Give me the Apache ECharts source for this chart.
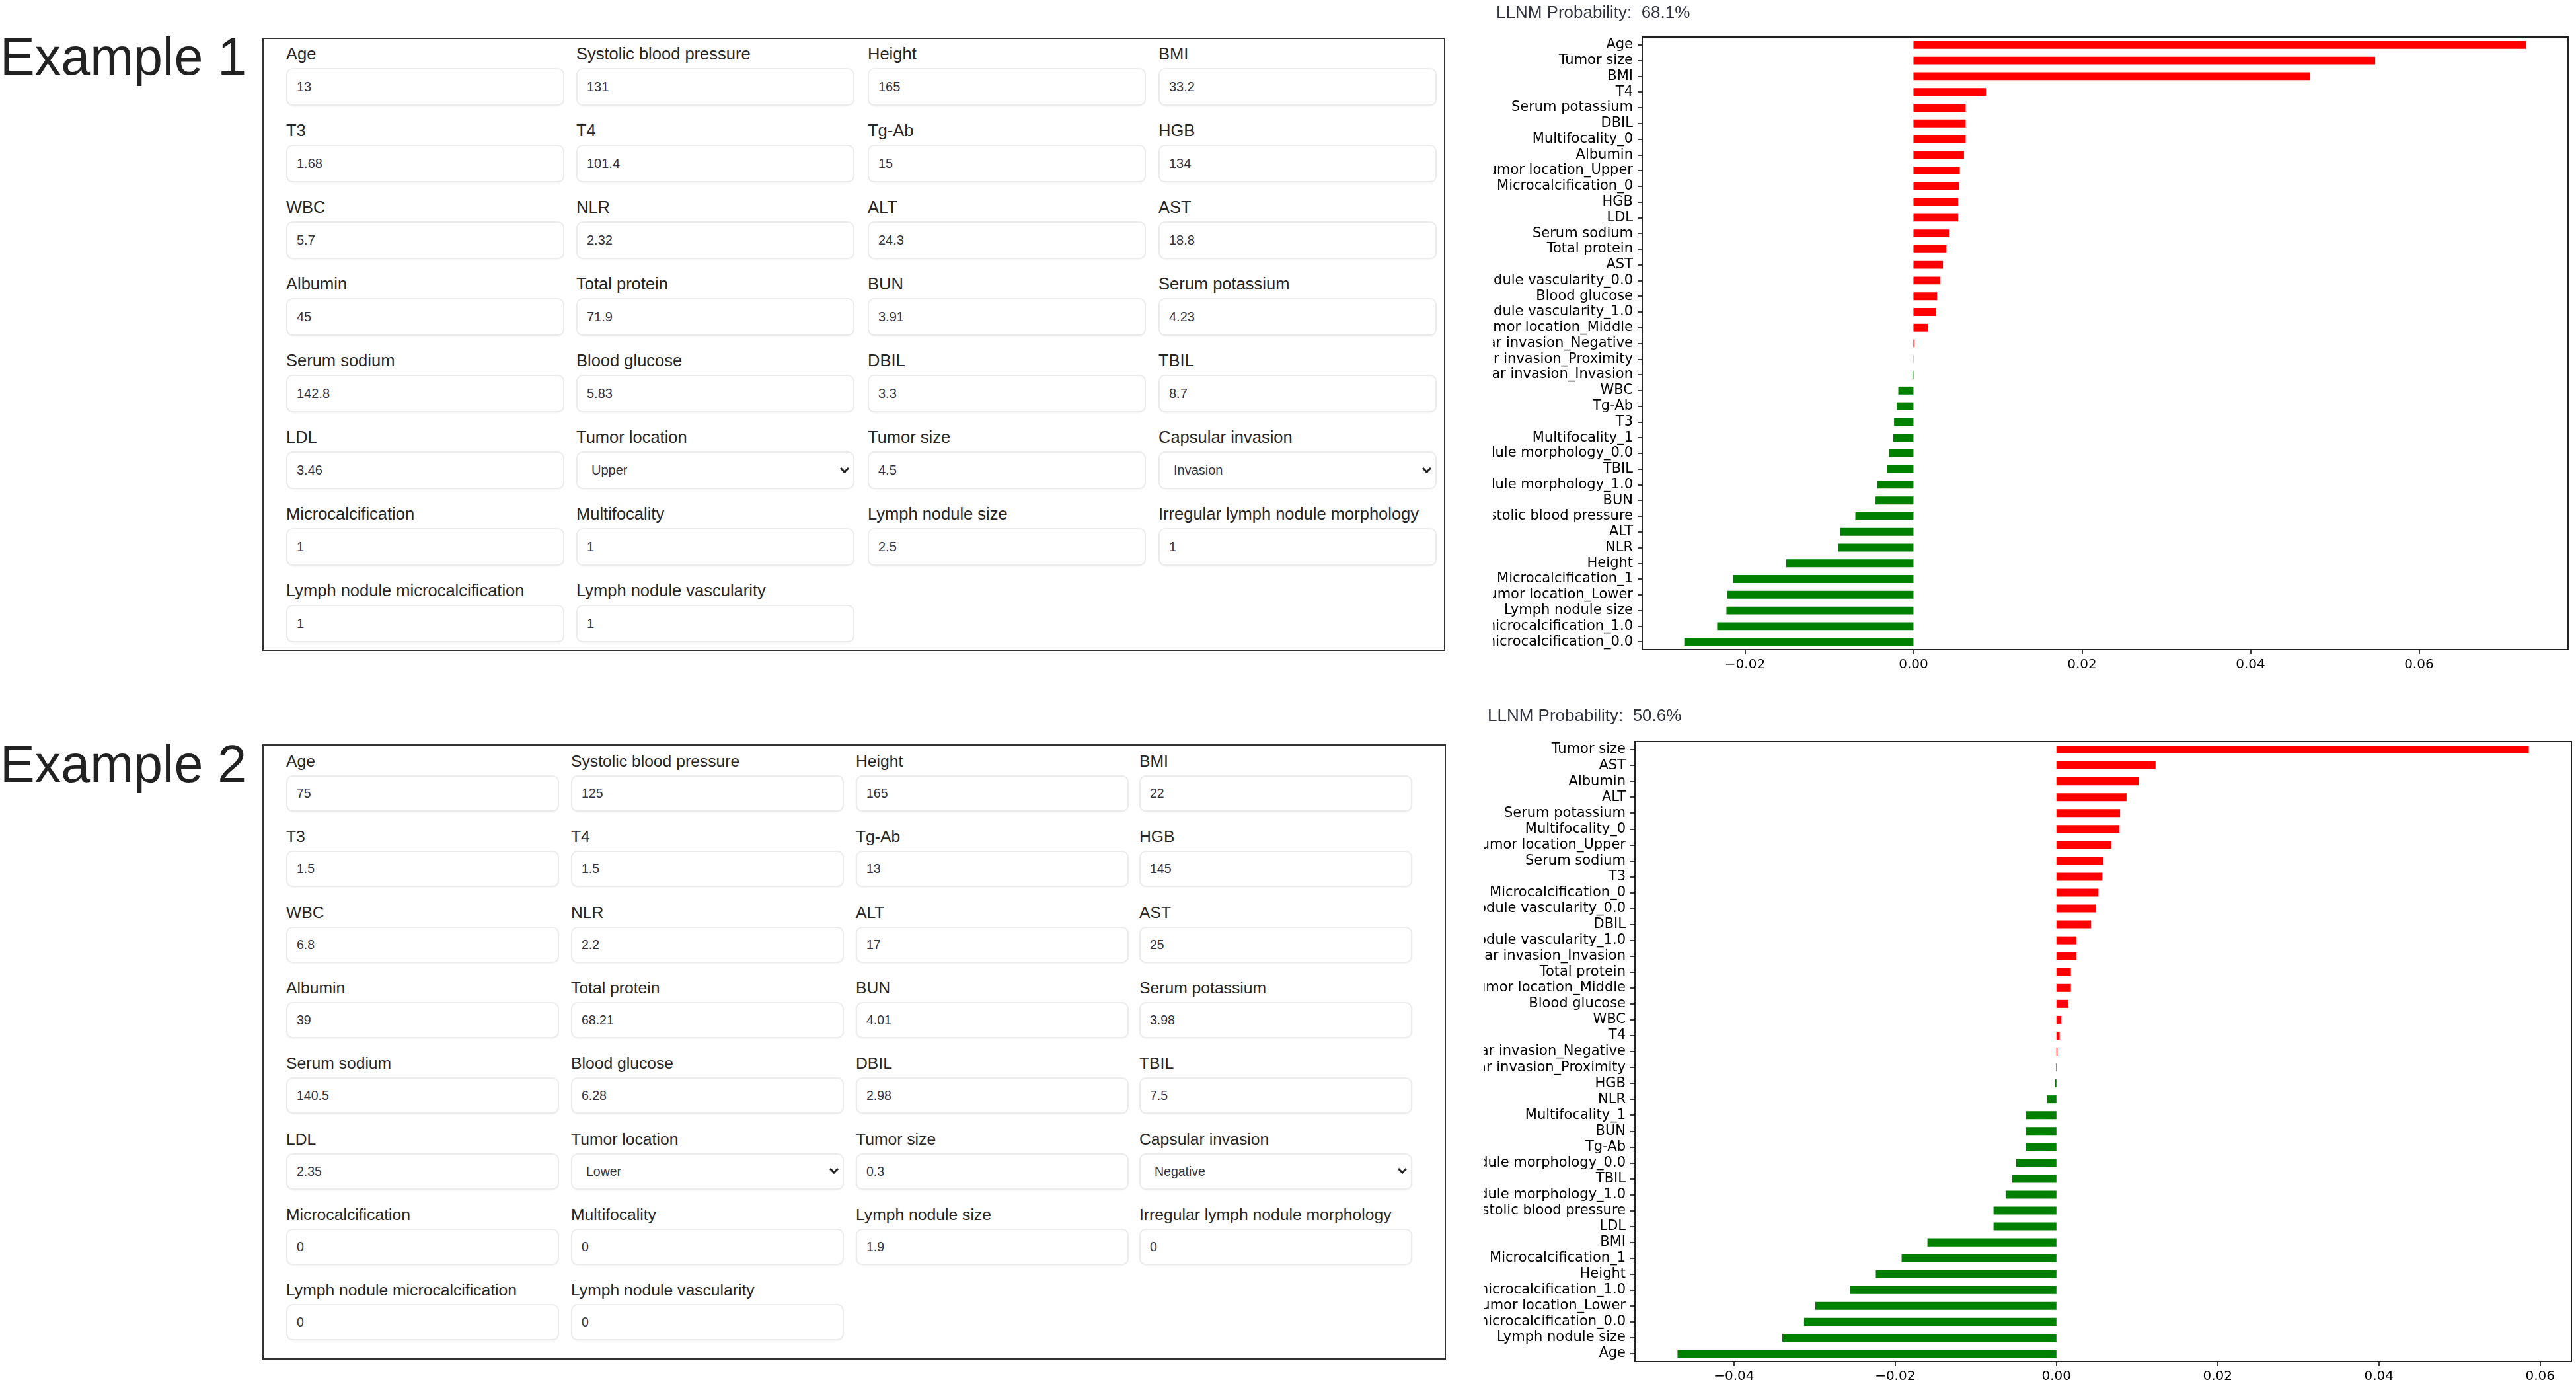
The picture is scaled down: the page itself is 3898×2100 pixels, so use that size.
<!DOCTYPE html>
<html>
<head>
<meta charset="utf-8">
<title>LLNM examples</title>
<script src="https://cdn.jsdelivr.net/npm/echarts@6.0.0/dist/echarts.min.js"></script>
<style>
html, body { margin: 0; padding: 0; background: #fff; }
body { width: 3898px; height: 2100px; position: relative; overflow: hidden; font-family: "Liberation Sans", Arial, sans-serif; }
.ex { position: absolute; left: 0; font-size: 79px; line-height: 79px; color: #222; white-space: nowrap; }
.panel { position: absolute; border: 2px solid #333; box-sizing: border-box; }
.lab { position: absolute; white-space: nowrap; color: #262626; line-height: 30px; }
.box { position: absolute; box-sizing: border-box; border: 2px solid #ececec; border-radius: 10px; background: #fff;
       box-shadow: 0 1px 2px rgba(0,0,0,.05); color: #31333f; white-space: nowrap; }
.chev { position: absolute; width: 7px; height: 7px; border-right: 3px solid #222; border-bottom: 3px solid #222; transform: rotate(45deg); }
.chart { position: absolute; }
</style>
</head>
<body>
<div class="ex" style="top:46px">Example 1</div>
<div class="ex" style="top:1116px">Example 2</div>
<div id="c1" class="chart" style="left:2259px;top:0px;width:1639px;height:1062px"></div>
<div id="c2" class="chart" style="left:2246px;top:1060px;width:1652px;height:1040px"></div>
<script>
// form fields, same order in both examples (4 per row)
const fieldNames = ['Age', 'Systolic blood pressure', 'Height', 'BMI',
  'T3', 'T4', 'Tg-Ab', 'HGB',
  'WBC', 'NLR', 'ALT', 'AST',
  'Albumin', 'Total protein', 'BUN', 'Serum potassium',
  'Serum sodium', 'Blood glucose', 'DBIL', 'TBIL',
  'LDL', 'Tumor location', 'Tumor size', 'Capsular invasion',
  'Microcalcification', 'Multifocality', 'Lymph nodule size', 'Irregular lymph nodule morphology',
  'Lymph nodule microcalcification', 'Lymph nodule vascularity']
const selectFields = ['Tumor location', 'Capsular invasion']

const inputs1 = ['13', '131', '165', '33.2', '1.68', '101.4', '15', '134', '5.7', '2.32', '24.3', '18.8',
  '45', '71.9', '3.91', '4.23', '142.8', '5.83', '3.3', '8.7', '3.46', 'Upper', '4.5', 'Invasion',
  '1', '1', '2.5', '1', '1', '1']
const inputs2 = ['75', '125', '165', '22', '1.5', '1.5', '13', '145', '6.8', '2.2', '17', '25',
  '39', '68.21', '4.01', '3.98', '140.5', '6.28', '2.98', '7.5', '2.35', 'Lower', '0.3', 'Negative',
  '0', '0', '1.9', '0', '0', '0']

const prob1 = '68.1%'
const prob2 = '50.6%'

const features1 = ['Age', 'Tumor size', 'BMI', 'T4', 'Serum potassium', 'DBIL', 'Multifocality_0', 'Albumin',
  'Tumor location_Upper', 'Microcalcification_0', 'HGB', 'LDL', 'Serum sodium', 'Total protein', 'AST',
  'Lymph nodule vascularity_0.0', 'Blood glucose', 'Lymph nodule vascularity_1.0', 'Tumor location_Middle',
  'Capsular invasion_Negative', 'Capsular invasion_Proximity', 'Capsular invasion_Invasion', 'WBC', 'Tg-Ab', 'T3',
  'Multifocality_1', 'Irregular lymph nodule morphology_0.0', 'TBIL', 'Irregular lymph nodule morphology_1.0', 'BUN',
  'Systolic blood pressure', 'ALT', 'NLR', 'Height', 'Microcalcification_1', 'Tumor location_Lower',
  'Lymph nodule size', 'Lymph nodule microcalcification_1.0', 'Lymph nodule microcalcification_0.0']
const shap1 = [0.0727, 0.0548, 0.0471, 0.0086, 0.0062, 0.0062, 0.0062, 0.0060,
  0.0055, 0.0054, 0.0053, 0.0053, 0.0042, 0.0039, 0.0035,
  0.0032, 0.0028, 0.0027, 0.0017,
  0.0001, 0.00002, -0.0001, -0.0018, -0.0020, -0.0023,
  -0.0024, -0.0029, -0.0031, -0.0043, -0.0045,
  -0.0069, -0.0087, -0.0089, -0.0151, -0.0214, -0.0221,
  -0.0222, -0.0233, -0.0272]

const features2 = ['Tumor size', 'AST', 'Albumin', 'ALT', 'Serum potassium', 'Multifocality_0', 'Tumor location_Upper',
  'Serum sodium', 'T3', 'Microcalcification_0', 'Lymph nodule vascularity_0.0', 'DBIL', 'Lymph nodule vascularity_1.0',
  'Capsular invasion_Invasion', 'Total protein', 'Tumor location_Middle', 'Blood glucose', 'WBC', 'T4',
  'Capsular invasion_Negative', 'Capsular invasion_Proximity', 'HGB', 'NLR', 'Multifocality_1', 'BUN', 'Tg-Ab',
  'Irregular lymph nodule morphology_0.0', 'TBIL', 'Irregular lymph nodule morphology_1.0', 'Systolic blood pressure',
  'LDL', 'BMI', 'Microcalcification_1', 'Height', 'Lymph nodule microcalcification_1.0', 'Tumor location_Lower',
  'Lymph nodule microcalcification_0.0', 'Lymph nodule size', 'Age']
const shap2 = [0.0586, 0.0123, 0.0102, 0.0087, 0.0079, 0.0078, 0.0068,
  0.0058, 0.0057, 0.0052, 0.0049, 0.0043, 0.0025,
  0.0025, 0.0018, 0.0018, 0.0015, 0.0006, 0.0004,
  0.0001, -0.00005, -0.0002, -0.0012, -0.0038, -0.0038, -0.0038,
  -0.0050, -0.0055, -0.0063, -0.0078,
  -0.0078, -0.0160, -0.0192, -0.0224, -0.0256, -0.0299,
  -0.0313, -0.0340, -0.0470]

const ticks1 = [-0.02, 0, 0.02, 0.04, 0.06]
const ticks2 = [-0.04, -0.02, 0, 0.02, 0.04, 0.06]

// panel layouts (the two screenshots were taken at slightly different widths)
const lay1 = { left: 397, top: 57, width: 1790, height: 928, cols: [433, 872, 1313, 1753], boxW: 421,
  row0: 81, pitch: 116, boxOff: 22, boxH: 57, labelSize: 25.5, valueSize: 20 }
const lay2 = { left: 397, top: 1126, width: 1791, height: 931, cols: [433, 864, 1295, 1724], boxW: 413,
  row0: 1152, pitch: 114.3, boxOff: 21, boxH: 55, labelSize: 24.7, valueSize: 19.5 }

const buildPanel = (values, lay) => {
  const p = document.createElement('div')
  p.className = 'panel'
  p.style.cssText = `left:${lay.left}px;top:${lay.top}px;width:${lay.width}px;height:${lay.height}px`
  document.body.appendChild(p)
  fieldNames.forEach((name, i) => {
    const x = lay.cols[i % 4]
    const cy = lay.row0 + Math.floor(i / 4) * lay.pitch
    const lab = document.createElement('div')
    lab.className = 'lab'
    lab.textContent = name
    lab.style.cssText = `left:${x}px;top:${cy - 15}px;font-size:${lay.labelSize}px`
    document.body.appendChild(lab)
    const isSel = selectFields.includes(name)
    const box = document.createElement('div')
    box.className = 'box'
    box.textContent = values[i]
    box.style.cssText = `left:${x}px;top:${cy + lay.boxOff}px;width:${lay.boxW}px;height:${lay.boxH}px;` +
      `font-size:${lay.valueSize}px;line-height:${lay.boxH - 4}px;padding-left:${isSel ? 21 : 14}px`
    document.body.appendChild(box)
    if (isSel) {
      const ch = document.createElement('div')
      ch.className = 'chev'
      ch.style.left = (x + lay.boxW - 20) + 'px'
      ch.style.top = (cy + lay.boxOff + lay.boxH / 2 - 8) + 'px'
      document.body.appendChild(ch)
    }
  })
}
buildPanel(inputs1, lay1)
buildPanel(inputs2, lay2)

const fmt = v => (v < 0 ? '\u2212' : '') + Math.abs(v).toFixed(2)

const makeChart = (el, names, vals, ticks, prob, grid, titleTop) => {
  const chart = echarts.init(el)
  chart.setOption({
    animation: false,
    title: {
      text: 'LLNM Probability:  ' + prob, left: 0, top: titleTop,
      textStyle: { fontFamily: 'Liberation Sans', fontSize: 26, fontWeight: 'normal', color: '#31333f' }
    },
    grid: Object.assign({ show: true, borderColor: '#222', borderWidth: 2, containLabel: false, outerBoundsMode: 'none' }, grid),
    xAxis: {
      type: 'value',
      // matplotlib style 5% margins
      min: v => v.min - (v.max - v.min) * 0.05,
      max: v => v.max + (v.max - v.min) * 0.05,
      axisLine: { show: false, onZero: false },
      splitLine: { show: false },
      axisTick: { show: true, length: 7, customValues: ticks, lineStyle: { color: '#000', width: 1.5 } },
      axisLabel: { customValues: ticks, formatter: fmt, fontFamily: 'DejaVu Sans', fontSize: 20, color: '#000', margin: 13 }
    },
    yAxis: {
      type: 'category',
      inverse: true,
      data: names,
      axisLine: { show: false, onZero: false },
      axisTick: { show: true, alignWithLabel: true, length: 7, lineStyle: { color: '#000', width: 1.5 } },
      axisLabel: { interval: 0, fontFamily: 'DejaVu Sans', fontSize: 21, color: '#000', margin: 14 }
    },
    series: [{
      type: 'bar',
      data: vals,
      barWidth: '50%',
      itemStyle: { color: p => p.value > 0 ? '#ff0000' : '#008000' }
    }]
  })
}

makeChart(document.getElementById('c1'), features1, shap1, ticks1, prob1,
  { left: 226, top: 56, right: 12, bottom: 79 }, 2)
makeChart(document.getElementById('c2'), features2, shap2, ticks2, prob2,
  { left: 228, top: 62, right: 7, bottom: 40 }, 6)
</script>
</body>
</html>
